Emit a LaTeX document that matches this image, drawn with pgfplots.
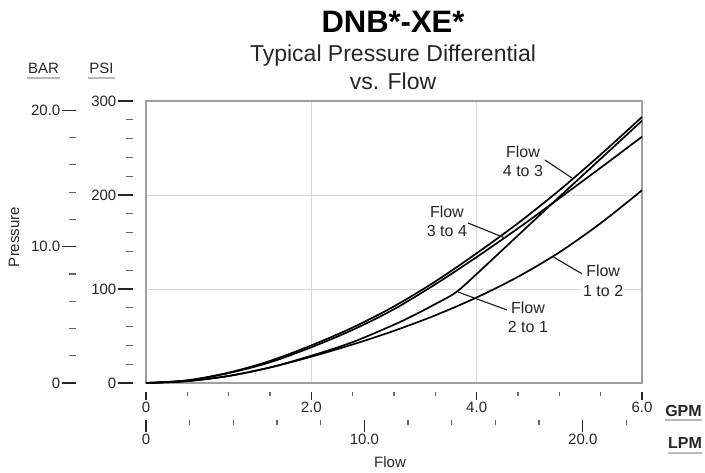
\documentclass[border=0pt]{standalone}
\usepackage{fontspec}
\setmainfont{Liberation Sans}
\usepackage{pgfplots}
\pgfplotsset{compat=1.18}

% tick-only scales that sit off the plot box
\pgfplotsset{
  scalebar/.style={
    scale only axis, anchor=south west,
    /pgf/number format/assume math mode=true,
    tick label style={font=\fontsize{15}{15}\selectfont, text=black!85},
    tick style={line width=1.4pt, black!85},
    minor tick style={line width=1.2pt, black!60},
    tick align=outside,
  },
  curve/.style={black, line width=1.7pt, smooth},
}
\tikzset{
  flowlbl/.style={font=\fontsize{16}{19.5}\selectfont, align=center, fill=white, inner sep=1pt, text=black!85},
}

\begin{document}
\begin{tikzpicture}
\useasboundingbox (0,0) rectangle (705pt,473pt);

% plot box with the four curves
\begin{axis}[
    scale only axis, width=496pt, height=282pt,
    at={(146pt,90pt)}, anchor=south west,
    xmin=0, xmax=6, ymin=0, ymax=300,
    xtick={2,4}, ytick={100,200},
    xticklabels={}, yticklabels={},
    tick style={draw=none},
    grid=major, grid style={gray!30, line width=0.8pt},
    axis line style={gray!75, line width=1.2pt},
    clip=false,
  ]
% Flow 4 to 3
\addplot[curve] coordinates {(0,0) (0.5,2.8) (1,11) (1.5,23.5) (2,40) (2.5,59) (3,81.5) (3.5,108) (4,138) (4.5,170) (5,205) (5.5,243) (6,283)};
% Flow 3 to 4
\addplot[curve] coordinates {(0,0) (0.5,2.7) (1,10.5) (1.5,22) (2,38) (2.5,56.5) (3,78.5) (3.5,105) (4,134) (4.5,164.5) (5,196.5) (5.5,229) (6,262)};
% Flow 2 to 1
\addplot[curve] coordinates {(0,0) (0.5,2) (1,7.5) (1.5,16.5) (2,29) (2.5,43.5) (3,62) (3.25,72.5) (3.5,84) (3.75,96.5) (4,116) (4.5,157) (5,198) (5.5,238.5) (6,279)};
% Flow 1 to 2
\addplot[curve] coordinates {(0,0) (0.5,2) (1,7.5) (1.5,16.5) (2,28) (2.5,41) (3,55.5) (3.5,72) (4,91) (4.5,113) (5,139) (5.5,170) (6,205)};

\draw[line width=1.2pt, black!85] (axis cs:4.826,237.2) -- (axis cs:5.153,218.1);
\draw[line width=1.2pt, black!85] (axis cs:3.895,170.2) -- (axis cs:4.343,154.3);
\draw[line width=1.2pt, black!85] (axis cs:5.298,114.9) -- (axis cs:4.93,134);
\draw[line width=1.2pt, black!85] (axis cs:4.367,77.7) -- (axis cs:3.774,96.8);

\node[flowlbl] at (axis cs:4.56,236) {Flow\\4 to 3};
\node[flowlbl] at (axis cs:3.64,172) {Flow\\3 to 4};
\node[flowlbl] at (axis cs:5.53,108.5) {Flow\\1 to 2};
\node[flowlbl] at (axis cs:4.62,70) {Flow\\2 to 1};
\end{axis}

% PSI scale
\begin{axis}[scalebar, width=10pt, height=282pt, at={(133pt,90pt)},
    xmin=0, xmax=1, ymin=0, ymax=300,
    hide x axis, axis y line*=left, y axis line style={draw=none},
    ytick={0,100,200,300},
    minor ytick={20,40,60,80,120,140,160,180,220,240,260,280},
    major tick length=15pt, minor tick length=7pt,
    yticklabel style={inner sep=1.5pt}]
\end{axis}

% BAR scale
\begin{axis}[scalebar, width=10pt, height=282pt, at={(76pt,90pt)},
    xmin=0, xmax=1, ymin=0, ymax=20.6843,
    hide x axis, axis y line*=left, y axis line style={draw=none},
    ytick={0,10,20}, yticklabels={0,10.0,20.0},
    minor ytick={2,4,6,8,12,14,16,18},
    major tick length=14pt, minor tick length=7pt,
    yticklabel style={inner sep=1.5pt}]
\end{axis}

% GPM scale
\begin{axis}[scalebar, width=496pt, height=5pt, at={(146pt,81pt)},
    xmin=0, xmax=6, ymin=0, ymax=1,
    hide y axis, axis x line*=bottom, x axis line style={draw=none},
    xtick={0,2,4,6}, xticklabels={0,2.0,4.0,6.0},
    minor xtick={0.5,1,1.5,2.5,3,3.5,4.5,5,5.5},
    major tick length=8pt, minor tick length=4pt,
    xticklabel style={inner sep=2pt}]
\end{axis}

% LPM scale
\begin{axis}[scalebar, width=496pt, height=5pt, at={(146pt,53pt)},
    xmin=0, xmax=22.7124, ymin=0, ymax=1,
    hide y axis, axis x line*=bottom, x axis line style={draw=none},
    xtick={0,10,20}, xticklabels={0,10.0,20.0},
    minor xtick={2,4,6,8,12,14,16,18,22},
    major tick length=12pt, minor tick length=5pt,
    xticklabel style={inner sep=2pt}]
\end{axis}

% titles and scale names
\node[anchor=base, font=\fontsize{31}{31}\selectfont\bfseries] at (393pt,440pt) {DNB*-XE*};
\node[anchor=base, font=\fontsize{23}{23}\selectfont, text=black!85] at (393pt,411pt) {Typical Pressure Differential};
\node[anchor=base, font=\fontsize{23}{23}\selectfont, text=black!85] at (393pt,383pt) {vs. Flow};

\node[rotate=90, font=\fontsize{15}{15}\selectfont, text=black!85] at (14pt,236pt) {Pressure};
\node[font=\fontsize{15}{15}\selectfont, text=black!85] at (390pt,11pt) {Flow};

\node[anchor=base, font=\fontsize{15}{15}\selectfont, text=black!85] at (43.5pt,399pt) {BAR};
\draw[gray!55, line width=2pt] (27pt,394.5pt) -- (60pt,394.5pt);
\node[anchor=base, font=\fontsize{15}{15}\selectfont, text=black!85] at (101.5pt,399pt) {PSI};
\draw[gray!55, line width=2pt] (88pt,394.5pt) -- (115pt,394.5pt);
\node[anchor=base, font=\fontsize{16}{16}\selectfont\bfseries, text=black!85] at (683.5pt,56pt) {GPM};
\draw[gray!55, line width=2pt] (665pt,52.5pt) -- (702pt,52.5pt);
\node[anchor=base, font=\fontsize{16}{16}\selectfont\bfseries, text=black!85] at (685pt,24.7pt) {LPM};
\draw[gray!55, line width=2pt] (668pt,20pt) -- (702pt,20pt);
\end{tikzpicture}
\end{document}
